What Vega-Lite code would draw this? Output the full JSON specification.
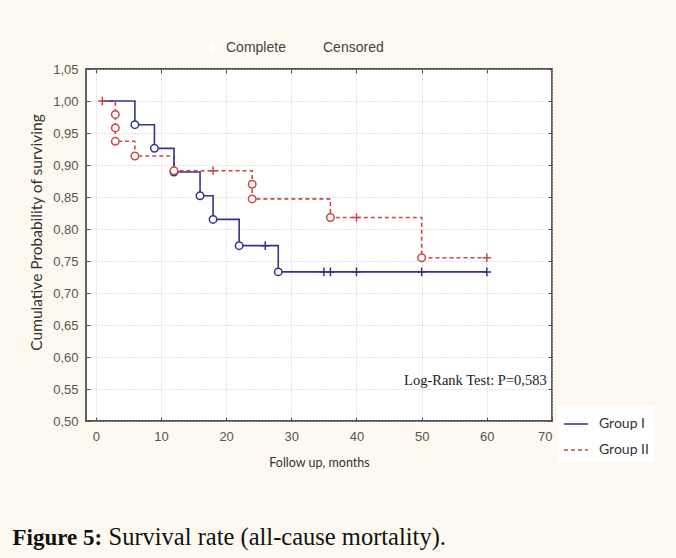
{
  "$schema": "https://vega.github.io/schema/vega-lite/v6.json",
  "width": 466,
  "height": 352,
  "autosize": {"type": "none"},
  "padding": {"left": 86, "top": 69, "right": 124, "bottom": 137},
  "background": "#fdf9f0",
  "config": {
    "view": {"fill": "white", "stroke": "#505050", "strokeWidth": 1.8},
    "legend": {"symbolStrokeWidth": 1.4},
    "axis": {
      "domain": false,
      "gridColor": "#c8c8c8",
      "gridDash": [1, 2],
      "labelFont": "Liberation Sans",
      "labelFontSize": 13,
      "labelColor": "#555555",
      "tickColor": "#505050",
      "titleFont": "Lato",
      "titleFontWeight": "normal",
      "titleColor": "#333333"
    }
  },
  "datasets": {
    "km": [
      {"g": "Group II", "t": 1, "s": 1.0, "ord": 1, "ev": "Censored"},
      {"g": "Group II", "t": 3, "s": 0.979, "ord": 2, "ev": "Complete"},
      {"g": "Group II", "t": 3, "s": 0.958, "ord": 3, "ev": "Complete"},
      {"g": "Group II", "t": 3, "s": 0.937, "ord": 4, "ev": "Complete"},
      {"g": "Group II", "t": 6, "s": 0.914, "ord": 5, "ev": "Complete"},
      {"g": "Group II", "t": 12, "s": 0.891, "ord": 6, "ev": "Complete"},
      {"g": "Group II", "t": 18, "s": 0.891, "ord": 7, "ev": "Censored"},
      {"g": "Group II", "t": 24, "s": 0.870, "ord": 8, "ev": "Complete"},
      {"g": "Group II", "t": 24, "s": 0.847, "ord": 9, "ev": "Complete"},
      {"g": "Group II", "t": 36, "s": 0.818, "ord": 10, "ev": "Complete"},
      {"g": "Group II", "t": 40, "s": 0.818, "ord": 11, "ev": "Censored"},
      {"g": "Group II", "t": 50, "s": 0.755, "ord": 12, "ev": "Complete"},
      {"g": "Group II", "t": 60, "s": 0.755, "ord": 13, "ev": "Censored"},
      {"g": "Group I", "t": 1, "s": 1.0, "ord": 1, "ev": "none"},
      {"g": "Group I", "t": 6, "s": 0.963, "ord": 2, "ev": "Complete"},
      {"g": "Group I", "t": 9, "s": 0.926, "ord": 3, "ev": "Complete"},
      {"g": "Group I", "t": 12, "s": 0.889, "ord": 4, "ev": "Complete"},
      {"g": "Group I", "t": 16, "s": 0.852, "ord": 5, "ev": "Complete"},
      {"g": "Group I", "t": 18, "s": 0.815, "ord": 6, "ev": "Complete"},
      {"g": "Group I", "t": 22, "s": 0.774, "ord": 7, "ev": "Complete"},
      {"g": "Group I", "t": 26, "s": 0.774, "ord": 8, "ev": "Censored"},
      {"g": "Group I", "t": 28, "s": 0.733, "ord": 9, "ev": "Complete"},
      {"g": "Group I", "t": 35, "s": 0.733, "ord": 10, "ev": "Censored"},
      {"g": "Group I", "t": 36, "s": 0.733, "ord": 11, "ev": "Censored"},
      {"g": "Group I", "t": 40, "s": 0.733, "ord": 12, "ev": "Censored"},
      {"g": "Group I", "t": 50, "s": 0.733, "ord": 13, "ev": "Censored"},
      {"g": "Group I", "t": 60, "s": 0.733, "ord": 14, "ev": "Censored"}
    ],
    "note": [{"t": 47.3, "s": 0.563, "label": "Log-Rank Test: P=0,583"}]
  },
  "resolve": {"axis": {"x": "independent", "y": "independent"}},
  "layer": [
    {
      "data": {"name": "km"},
      "mark": {"type": "rect", "opacity": 0},
      "encoding": {
        "x": {"field": "t", "type": "quantitative", "scale": {"domain": [-1.5, 70], "nice": false, "zero": false},
          "axis": {"orient": "top", "values": [0, 10, 20, 30, 40, 50, 60], "labels": false, "grid": false, "ticks": true, "tickSize": 4, "offset": -4, "title": null}},
        "y": {"field": "s", "type": "quantitative", "scale": {"domain": [0.5, 1.05], "nice": false, "zero": false},
          "axis": {"orient": "right", "values": [0.5, 0.55, 0.6, 0.65, 0.7, 0.75, 0.8, 0.85, 0.9, 0.95, 1.0, 1.05], "labels": false, "grid": false, "ticks": true, "tickSize": 4, "offset": -4, "title": null}}
      }
    },
    {
      "data": {"name": "km"},
      "mark": {"type": "line", "interpolate": "step-after", "strokeWidth": 1.6},
      "encoding": {
        "x": {"field": "t", "type": "quantitative",
          "axis": {"orient": "bottom", "values": [0, 10, 20, 30, 40, 50, 60, 70], "grid": true, "ticks": false, "labelPadding": 9, "title": "Follow up, months", "titleFontSize": 12.5, "titlePadding": 13}},
        "y": {"field": "s", "type": "quantitative",
          "axis": {"orient": "left", "values": [0.5, 0.55, 0.6, 0.65, 0.7, 0.75, 0.8, 0.85, 0.9, 0.95, 1.0, 1.05], "grid": true, "ticks": false, "labelPadding": 8,
            "labelExpr": "replace(format(datum.value, '.2f'), '.', ',')",
            "title": "Cumulative Probability of surviving", "titleFontSize": 15.5, "titlePadding": 8, "titleY": 163}},
        "order": {"field": "ord", "type": "quantitative"},
        "color": {"field": "g", "type": "nominal",
          "scale": {"domain": ["Group I", "Group II"], "range": ["#34348a", "#c94a4a"]},
          "legend": {"title": null, "orient": "none", "legendX": 472, "legendY": 337, "symbolType": "stroke", "symbolSize": 576, "symbolStrokeWidth": 1.6,
            "labelFont": "Lato", "labelFontSize": 14, "labelColor": "#333333", "labelOffset": 10, "rowPadding": 6, "fillColor": "white", "padding": 5}},
        "strokeDash": {"field": "g", "type": "nominal",
          "scale": {"domain": ["Group I", "Group II"], "range": [[1, 0], [4, 3]]}}
      }
    },
    {
      "data": {"name": "km"},
      "transform": [{"filter": "datum.g == 'Group I' && datum.ev != 'none'"}],
      "mark": {"type": "point", "filled": false, "fill": "white", "stroke": "#34348a", "strokeWidth": 1.5, "strokeOpacity": 1, "fillOpacity": 1, "size": 56, "opacity": 1},
      "encoding": {
        "x": {"field": "t", "type": "quantitative",
          "axis": {"orient": "bottom", "values": [0, 10, 20, 30, 40, 50, 60, 70], "labels": false, "grid": false, "ticks": true, "tickSize": 4, "offset": -4,
            "title": "Figure 5:", "titleX": -74, "titleY": 127, "titleAlign": "left", "titleBaseline": "alphabetic", "titleAngle": 0,
            "titleFont": "Liberation Serif", "titleFontSize": 23, "titleFontWeight": "bold", "titleColor": "#111111"}},
        "y": {"field": "s", "type": "quantitative",
          "axis": {"orient": "left", "values": [0.5, 0.55, 0.6, 0.65, 0.7, 0.75, 0.8, 0.85, 0.9, 0.95, 1.0, 1.05], "labels": false, "grid": false, "ticks": true, "tickSize": 4, "offset": -4, "title": null}},
        "shape": {"field": "ev", "type": "nominal",
          "scale": {"domain": ["Complete", "Censored"], "range": ["circle", "M-1.15,0H1.15M0,-1.15V1.15"]},
          "legend": {"title": null, "orient": "none", "direction": "horizontal", "legendX": 119, "legendY": -28,
            "symbolSize": 40, "symbolStrokeWidth": 1.4, "symbolStrokeColor": "#34348a", "symbolFillColor": "white", "symbolOpacity": 1,
            "labelFont": "Liberation Sans", "labelFontSize": 14, "labelColor": "#444444", "labelOffset": 7, "columnPadding": 16,
            "encode": {"symbols": {"stroke": {"value": "#34348a"}, "strokeOpacity": {"value": 1}, "fill": {"value": "white"}, "strokeWidth": {"value": 1.4}, "opacity": {"value": 1}}}}}
      }
    },
    {
      "data": {"name": "km"},
      "transform": [{"filter": "datum.g == 'Group II' && datum.ev != 'none'"}],
      "mark": {"type": "point", "filled": false, "fill": "white", "stroke": "#c94a4a", "strokeWidth": 1.5, "strokeOpacity": 1, "fillOpacity": 1, "size": 56, "opacity": 1},
      "encoding": {
        "x": {"field": "t", "type": "quantitative", "axis": null},
        "y": {"field": "s", "type": "quantitative", "axis": null},
        "shape": {"field": "ev", "type": "nominal"}
      }
    },
    {
      "data": {"name": "note"},
      "mark": {"type": "text", "align": "left", "baseline": "middle", "font": "Liberation Serif", "fontSize": 14.5, "color": "#222222"},
      "encoding": {
        "x": {"field": "t", "type": "quantitative",
          "axis": {"orient": "bottom", "labels": false, "grid": false, "ticks": false, "domain": false,
            "title": "Survival rate (all-cause mortality).", "titleX": 22, "titleY": 123, "titleAlign": "left", "titleBaseline": "alphabetic", "titleAngle": 0,
            "titleFont": "Liberation Serif", "titleFontSize": 24.5, "titleFontWeight": "normal", "titleColor": "#111111"}},
        "y": {"field": "s", "type": "quantitative", "axis": null},
        "text": {"field": "label"}
      }
    }
  ]
}
